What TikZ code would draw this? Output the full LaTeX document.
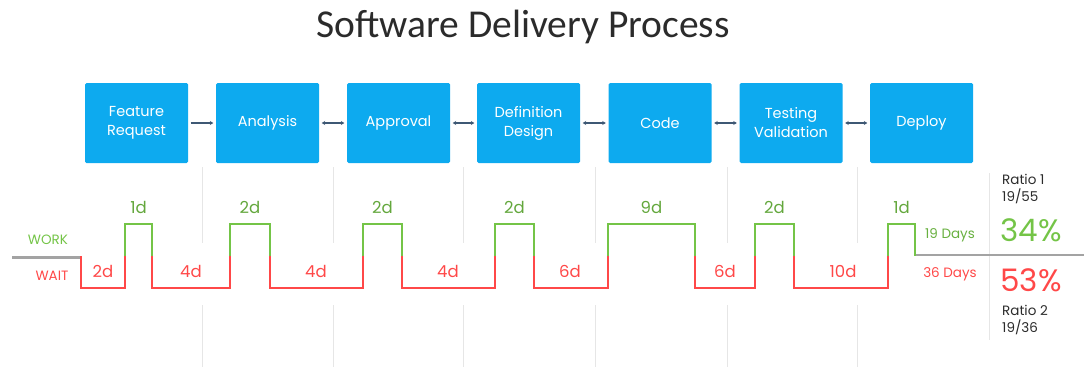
\documentclass[tikz,border=0pt]{standalone}
\usepackage{fontspec}
\setmainfont{Poppins}
\newfontfamily\titlefont{Carlito}
\usetikzlibrary{arrows.meta}
\definecolor{boxblue}{HTML}{0DAAEF}
\definecolor{workgreen}{HTML}{74C447}
\definecolor{waitred}{HTML}{FF4848}
\definecolor{linkgray}{HTML}{3E5874}
\definecolor{basegray}{HTML}{A3A3A3}
\definecolor{guidegray}{HTML}{E6E6E6}
\definecolor{inkgray}{HTML}{2B2B2B}
\tikzset{
  stepbox/.style={fill=boxblue, rounded corners=1.5pt, minimum width=103pt, minimum height=80pt,
    inner sep=0pt, text=white, align=center, font=\fontsize{14.5}{19}\selectfont},
  link/.style={linkgray, line width=1.4pt, {Stealth[length=3.5pt,width=4pt]}-{Stealth[length=3.5pt,width=4pt]}},
  onelink/.style={linkgray, line width=1.4pt, -{Stealth[length=3.5pt,width=4pt]}},
  guide/.style={guidegray, line width=0.8pt},
  workline/.style={workgreen, line width=2.8pt},
  waitline/.style={waitred, line width=2.8pt},
  worklbl/.style={text=workgreen!85!black, font=\fontsize{16.5}{18}\selectfont, inner sep=0pt},
  waitlbl/.style={text=waitred, font=\fontsize{16.5}{18}\selectfont, inner sep=0pt},
  small/.style={font=\fontsize{13.5}{16.5}\selectfont, inner sep=0pt},
}
\begin{document}
\begin{tikzpicture}[x=1pt,y=-1pt]
\useasboundingbox (0,0) rectangle (1084,367);

% title
\node[font=\titlefont\fontsize{39.5}{44}\selectfont, text=inkgray] (title) at (523,27) {Software Delivery Process};

% faint column guides between the steps
\foreach \gx in {202,333,463,595,727,857}{
  \draw[guide] (\gx,167) -- (\gx,243);
  \draw[guide] (\gx,305) -- (\gx,367);
}
\draw[guide] (989,173) -- (989,340);

% process steps
\node[stepbox] (s1) at (136.5,123) {Feature\\Request};
\node[stepbox] (s2) at (267.5,123) {Analysis};
\node[stepbox] (s3) at (398.5,123) {Approval};
\node[stepbox] (s4) at (528.5,123) {Definition\\Design};
\node[stepbox] (s5) at (660,123) {Code};
\node[stepbox] (s6) at (791,123) {Testing\\Validation};
\node[stepbox] (s7) at (921.5,123) {Deploy};

\draw[onelink] ([xshift=2.5pt]s1.east) -- ([xshift=-2.5pt]s2.west);
\draw[link] ([xshift=2.5pt]s2.east) -- ([xshift=-2.5pt]s3.west);
\draw[link] ([xshift=2.5pt]s3.east) -- ([xshift=-2.5pt]s4.west);
\draw[link] ([xshift=2.5pt]s4.east) -- ([xshift=-2.5pt]s5.west);
\draw[link] ([xshift=2.5pt]s5.east) -- ([xshift=-2.5pt]s6.west);
\draw[link] ([xshift=2.5pt]s6.east) -- ([xshift=-2.5pt]s7.west);

% baseline
\draw[basegray, line width=2.4pt] (12,257.5) -- (81,257.5);
\draw[basegray, line width=2.4pt] (915,255) -- (1084,255);

% wait time (low level)
\draw[waitline] (81,256) -- (81,288) -- (125,288) -- (125,256);
\draw[waitline] (152,256) -- (152,288) -- (230,288) -- (230,256);
\draw[waitline] (270,256) -- (270,288) -- (363,288) -- (363,256);
\draw[waitline] (402,256) -- (402,288) -- (495,288) -- (495,256);
\draw[waitline] (534,256) -- (534,288) -- (608,288) -- (608,256);
\draw[waitline] (695,256) -- (695,288) -- (755,288) -- (755,256);
\draw[waitline] (794,256) -- (794,288) -- (888,288) -- (888,256);

% work time (high level)
\foreach \a/\b in {125/152,230/270,363/402,495/534,608/695,755/794,888/915}{
  \draw[workline] (\a,256) -- (\a,224) -- (\b,224) -- (\b,256);
}

% durations
\node[worklbl] (w1) at (138.5,207) {1d};
\node[worklbl] (w2) at (250,207) {2d};
\node[worklbl] (w3) at (382.5,207) {2d};
\node[worklbl] (w4) at (514.5,207) {2d};
\node[worklbl] (w5) at (651.5,207) {9d};
\node[worklbl] (w6) at (774.5,207) {2d};
\node[worklbl] (w7) at (901.5,207) {1d};

\node[waitlbl] (t1) at (103,271) {2d};
\node[waitlbl] (t2) at (191,271) {4d};
\node[waitlbl] (t3) at (316,271) {4d};
\node[waitlbl] (t4) at (448,271) {4d};
\node[waitlbl] (t5) at (570,271) {6d};
\node[waitlbl] (t6) at (725,271) {6d};
\node[waitlbl] (t7) at (843,271) {10d};

% row labels
\node[small, text=workgreen] (work) at (48,240) {WORK};
\node[small, text=waitred] (wait) at (52,276) {WAIT};

% totals
\node[small, text=workgreen!90!black] (wd) at (950,235) {19 Days};
\node[small, text=waitred] (td) at (950,274) {36 Days};

\node[font=\fontsize{31}{34}\selectfont, text=workgreen, inner sep=0pt] (p1) at (1031,230) {34\%};
\node[font=\fontsize{31}{34}\selectfont, text=waitred, inner sep=0pt] (p2) at (1031,280) {53\%};

\node[small, text=inkgray, anchor=west, align=left] (r1) at (1002,189) {Ratio 1\\19/55};
\node[small, text=inkgray, anchor=west, align=left] (r2) at (1002,320) {Ratio 2\\19/36};
\end{tikzpicture}
\end{document}
